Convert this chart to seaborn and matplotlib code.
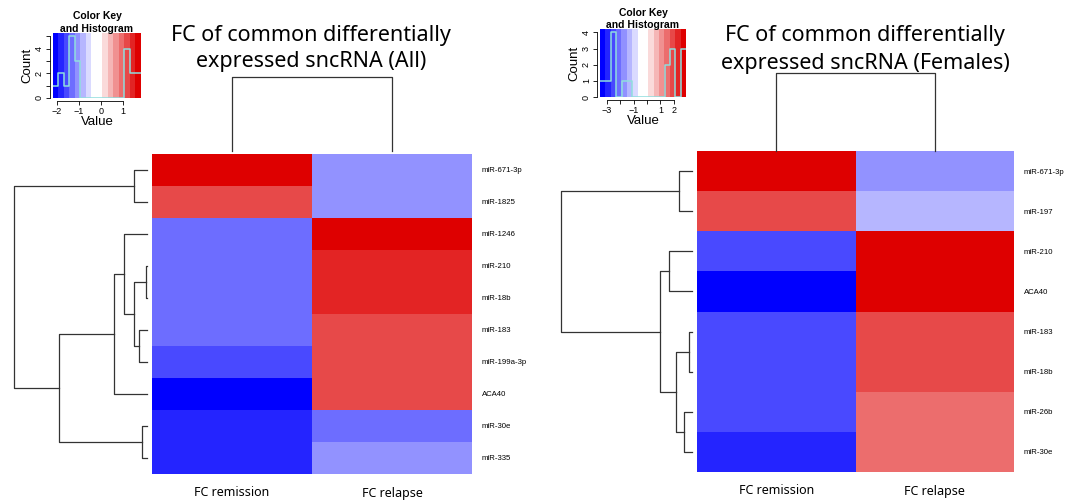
import numpy as np
import pandas as pd
import seaborn as sns
import matplotlib.pyplot as plt
from matplotlib.colors import ListedColormap

# values (fold change per sncRNA)
col_labels = ['FC remission', 'FC relapse']

all_rows = ['miR-671-3p', 'miR-1825', 'miR-1246', 'miR-210', 'miR-18b',
            'miR-183', 'miR-199a-3p', 'ACA40', 'miR-30e', 'miR-335']
all_remission = [1.82, 1.2, -1.3, -1.3, -1.3, -1.3, -1.55, -2.18, -1.8, -1.8]
all_relapse = [-1.05, -1.05, 1.82, 1.45, 1.45, 1.2, 1.2, 1.2, -1.3, -1.05]

fem_rows = ['miR-671-3p', 'miR-197', 'miR-210', 'ACA40', 'miR-183',
            'miR-18b', 'miR-26b', 'miR-30e']
fem_remission = [2.9, 1.9, -2.5, -3.5, -2.5, -2.5, -2.5, -2.9]
fem_relapse = [-1.7, -1.3, 2.9, 2.9, 1.9, 1.9, 1.5, 1.5]

# row dendrograms: merged pairs (index < n is a row, n+k is merge k) and heights
all_merges = [(0, 1), (3, 4), (5, 6), (11, 12), (2, 13), (14, 7), (8, 9), (15, 16), (10, 17)]
all_heights = [0.62, 0.06, 0.38, 0.62, 1.1, 1.57, 0.25, 4.2, 6.34]
fem_merges = [(0, 1), (2, 3), (4, 5), (6, 7), (10, 11), (9, 12), (8, 13)]
fem_heights = [0.64, 1.08, 0.13, 0.37, 0.76, 1.55, 6.25]
col_merges = [(0, 1)]
col_heights = [1.0]

# colour key axis labels
all_key_ticks = [-2, -1, 0, 1]
all_key_ticklabels = ['\u22122', '\u22121', '0', '1']
all_count_ticks = [0, 1, 2, 3, 4, 5]
all_count_labels = ['0', '', '2', '', '4', '']
fem_key_ticks = [-3, -2, -1, 0, 1, 2]
fem_key_ticklabels = ['\u22123', '', '\u22121', '', '1', '2']
fem_count_ticks = [0, 1, 2, 3, 4]
fem_count_labels = ['0', '1', '2', '3', '4']

W, H = 1079, 500
plt.rcParams['font.family'] = ['Liberation Sans', 'DejaVu Sans']
LINE = '#333333'
TITLE_FONT = ['Noto Sans', 'DejaVu Sans']


def bluered(n, high=(222, 0, 0)):
    half = n // 2
    lo = np.linspace([0, 0, 255], [255, 255, 255], half)
    hi = np.linspace([255, 255, 255], high, n - half)
    return ListedColormap(np.vstack([lo, hi]) / 255)


cmap = bluered(16)


def box(x0, y0, x1, y1):
    # pixel box -> figure fraction
    return [x0 / W, 1 - y1 / H, (x1 - x0) / W, (y1 - y0) / H]


def row_dendro(ax, merges, heights, n):
    pos = {i: i + 0.5 for i in range(n)}
    hgt = {i: 0.0 for i in range(n)}
    for k, ((a, b), h) in enumerate(zip(merges, heights)):
        ax.plot([hgt[a], h, h, hgt[b]], [pos[a], pos[a], pos[b], pos[b]],
                color=LINE, lw=0.9, clip_on=False)
        pos[n + k] = (pos[a] + pos[b]) / 2
        hgt[n + k] = h
    ax.set_xlim(max(heights), 0)
    ax.set_ylim(n, 0)
    ax.axis('off')


def col_dendro(ax, merges, heights, n):
    pos = {i: i + 0.5 for i in range(n)}
    hgt = {i: 0.0 for i in range(n)}
    for k, ((a, b), h) in enumerate(zip(merges, heights)):
        ax.plot([pos[a], pos[a], pos[b], pos[b]], [hgt[a], h, h, hgt[b]],
                color=LINE, lw=0.9, clip_on=False)
        pos[n + k] = (pos[a] + pos[b]) / 2
        hgt[n + k] = h
    ax.set_xlim(0, n)
    ax.set_ylim(0, max(heights))
    ax.axis('off')


def color_key(ax, values, xticks, xlabels, yticks, ylabels):
    vmin, vmax = min(values), max(values)
    breaks = np.linspace(vmin, vmax, cmap.N + 1)
    counts, _ = np.histogram(values, bins=breaks)
    top = counts.max() / 0.95
    ax.imshow(np.arange(cmap.N)[None, :], cmap=cmap, aspect='auto',
              extent=(vmin, vmax, 0, top), interpolation='nearest')
    ax.step(breaks, np.append(counts, counts[-1]), where='post', color='#8fdede', lw=1.1)
    ax.set_xlim(vmin, vmax)
    ax.set_ylim(0, top)
    for s in ['top', 'right']:
        ax.spines[s].set_visible(False)
    ax.spines['bottom'].set_bounds(xticks[0], xticks[-1])
    ax.spines['left'].set_bounds(yticks[0], yticks[-1])
    ax.spines['bottom'].set_position(('outward', 2))
    ax.spines['left'].set_position(('outward', 2))
    for s in ['bottom', 'left']:
        ax.spines[s].set_linewidth(0.6)
    ax.set_xticks(xticks)
    ax.set_xticklabels(xlabels, fontsize=6.5)
    ax.set_yticks(yticks)
    ax.set_yticklabels(ylabels, fontsize=6.5, rotation=90, va='center')
    ax.tick_params(length=3, width=0.6, pad=1.5)
    ax.set_xlabel('Value', fontsize=9.5, labelpad=0)
    ax.set_ylabel('Count', fontsize=9.5, labelpad=1)


def heat(ax, rows, rem, rel, vals):
    df = pd.DataFrame({col_labels[0]: rem, col_labels[1]: rel}, index=rows)
    sns.heatmap(df, ax=ax, cmap=cmap, vmin=min(vals), vmax=max(vals), cbar=False,
                xticklabels=True, yticklabels=True)
    ax.yaxis.tick_right()
    ax.set_yticklabels(rows, rotation=0, fontsize=5.6, ha='left')
    ax.set_xticklabels(col_labels, rotation=0, fontsize=9, family=TITLE_FONT)
    ax.tick_params(axis='y', length=0, pad=7)
    ax.tick_params(axis='x', length=0, pad=9)
    ax.set_xlabel('')
    ax.set_ylabel('')


fig = plt.figure(figsize=(W / 100, H / 100), dpi=100)

# left panel: all
all_vals = all_remission + all_relapse
heat(fig.add_axes(box(152, 154, 472, 474)), all_rows, all_remission, all_relapse, all_vals)
row_dendro(fig.add_axes(box(14, 154, 147, 474)), all_merges, all_heights, len(all_rows))
col_dendro(fig.add_axes(box(152, 77, 472, 151)), col_merges, col_heights, 2)
color_key(fig.add_axes(box(53, 33, 141, 98)), all_vals, all_key_ticks, all_key_ticklabels,
          all_count_ticks, all_count_labels)
fig.text(311 / W, 1 - 35 / H, 'FC of common differentially', ha='center', va='center',
         fontsize=15.5, family=TITLE_FONT)
fig.text(311 / W, 1 - 62 / H, 'expressed sncRNA (All)', ha='center', va='center',
         fontsize=15.5, family=TITLE_FONT)
fig.text(97 / W, 1 - 16 / H, 'Color Key', ha='center', va='center', fontsize=7.5, weight='bold')
fig.text(97 / W, 1 - 29 / H, 'and Histogram', ha='center', va='center', fontsize=7.5, weight='bold')

# right panel: females
fem_vals = fem_remission + fem_relapse
heat(fig.add_axes(box(697, 151, 1014, 472)), fem_rows, fem_remission, fem_relapse, fem_vals)
row_dendro(fig.add_axes(box(561, 151, 692, 472)), fem_merges, fem_heights, len(fem_rows))
col_dendro(fig.add_axes(box(697, 73, 1014, 151)), col_merges, col_heights, 2)
color_key(fig.add_axes(box(600, 29, 686, 97)), fem_vals, fem_key_ticks, fem_key_ticklabels,
          fem_count_ticks, fem_count_labels)
fig.text(865 / W, 1 - 35 / H, 'FC of common differentially', ha='center', va='center',
         fontsize=15.5, family=TITLE_FONT)
fig.text(865 / W, 1 - 63 / H, 'expressed sncRNA (Females)', ha='center', va='center',
         fontsize=15.5, family=TITLE_FONT)
fig.text(643 / W, 1 - 13 / H, 'Color Key', ha='center', va='center', fontsize=7.5, weight='bold')
fig.text(643 / W, 1 - 25 / H, 'and Histogram', ha='center', va='center', fontsize=7.5, weight='bold')

fig.savefig('out.png', dpi=100)
